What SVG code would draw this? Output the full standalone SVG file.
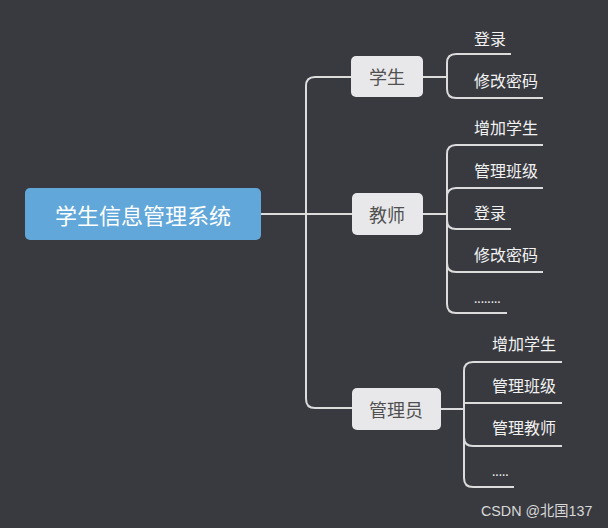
<svg xmlns="http://www.w3.org/2000/svg" width="608" height="528" viewBox="0 0 608 528">
<style>
.bg{fill:#393a40}
.ln{fill:none;stroke:#dcdcdc;stroke-width:2}
.node rect{fill:#e8e8ea}
.node text{font-family:"Noto Sans CJK SC","Noto Sans",sans-serif;font-size:18px;fill:#505050;text-anchor:middle;dominant-baseline:central}
.leaf{font-family:"Noto Sans CJK SC","Noto Sans",sans-serif;font-size:16px;fill:#f2f2f2}
</style>
<rect class="bg" x="0" y="0" width="608" height="528"/>
<g id="connectors" class="ln">
<path d="M261 214H352"/>
<path d="M306 214V86Q306 77 315 77H351"/>
<path d="M306 214V399Q306 408 315 408H352"/>
<path d="M423 77H447"/>
<path d="M447 77V63Q447 54 456 54H511"/>
<path d="M447 77V89Q447 98 456 98H543"/>
<path d="M423 214H447"/>
<path d="M447 214V154Q447 145 456 145H543"/>
<path d="M447 214V197Q447 188 456 188H543"/>
<path d="M447 214V220Q447 229 456 229H511"/>
<path d="M447 214V263Q447 272 456 272H543"/>
<path d="M447 214V304Q447 313 456 313H507"/>
<path d="M441 409H464"/>
<path d="M464 409V371Q464 362 473 362H562"/>
<path d="M464 409V403H562"/>
<path d="M464 409V437Q464 446 473 446H562"/>
<path d="M464 409V478Q464 487 473 487H514"/>
</g>
<g id="root">
<rect x="25" y="188" width="236" height="52" rx="5" fill="#62a7d9"/>
<text x="143" y="214" font-family="'Noto Sans CJK SC','Noto Sans',sans-serif" font-size="22" fill="#ffffff" text-anchor="middle" dominant-baseline="central">学生信息管理系统</text>
</g>
<g id="student" class="node">
<rect x="351" y="56" width="72" height="41" rx="5"/>
<text x="387" y="76">学生</text>
</g>
<g id="teacher" class="node">
<rect x="352" y="193" width="71" height="42" rx="5"/>
<text x="387" y="214">教师</text>
</g>
<g id="admin" class="node">
<rect x="352" y="388" width="89" height="42" rx="5"/>
<text x="396" y="409">管理员</text>
</g>
<g id="student-children" class="leaf">
<text x="474" y="45">登录</text>
<text x="474" y="87">修改密码</text>
</g>
<g id="teacher-children" class="leaf">
<text x="474" y="134">增加学生</text>
<text x="474" y="177">管理班级</text>
<text x="474" y="219">登录</text>
<text x="474" y="261">修改密码</text>
<text x="474" y="303" font-size="12">........</text>
</g>
<g id="admin-children" class="leaf">
<text x="492" y="350">增加学生</text>
<text x="492" y="392">管理班级</text>
<text x="492" y="434">管理教师</text>
<text x="492" y="476" font-size="12">.....</text>
</g>
<text x="481" y="516" font-family="'Liberation Sans','Noto Sans CJK SC',sans-serif" font-size="14.3" fill="#d8d8d8">CSDN @北国137</text>
</svg>
